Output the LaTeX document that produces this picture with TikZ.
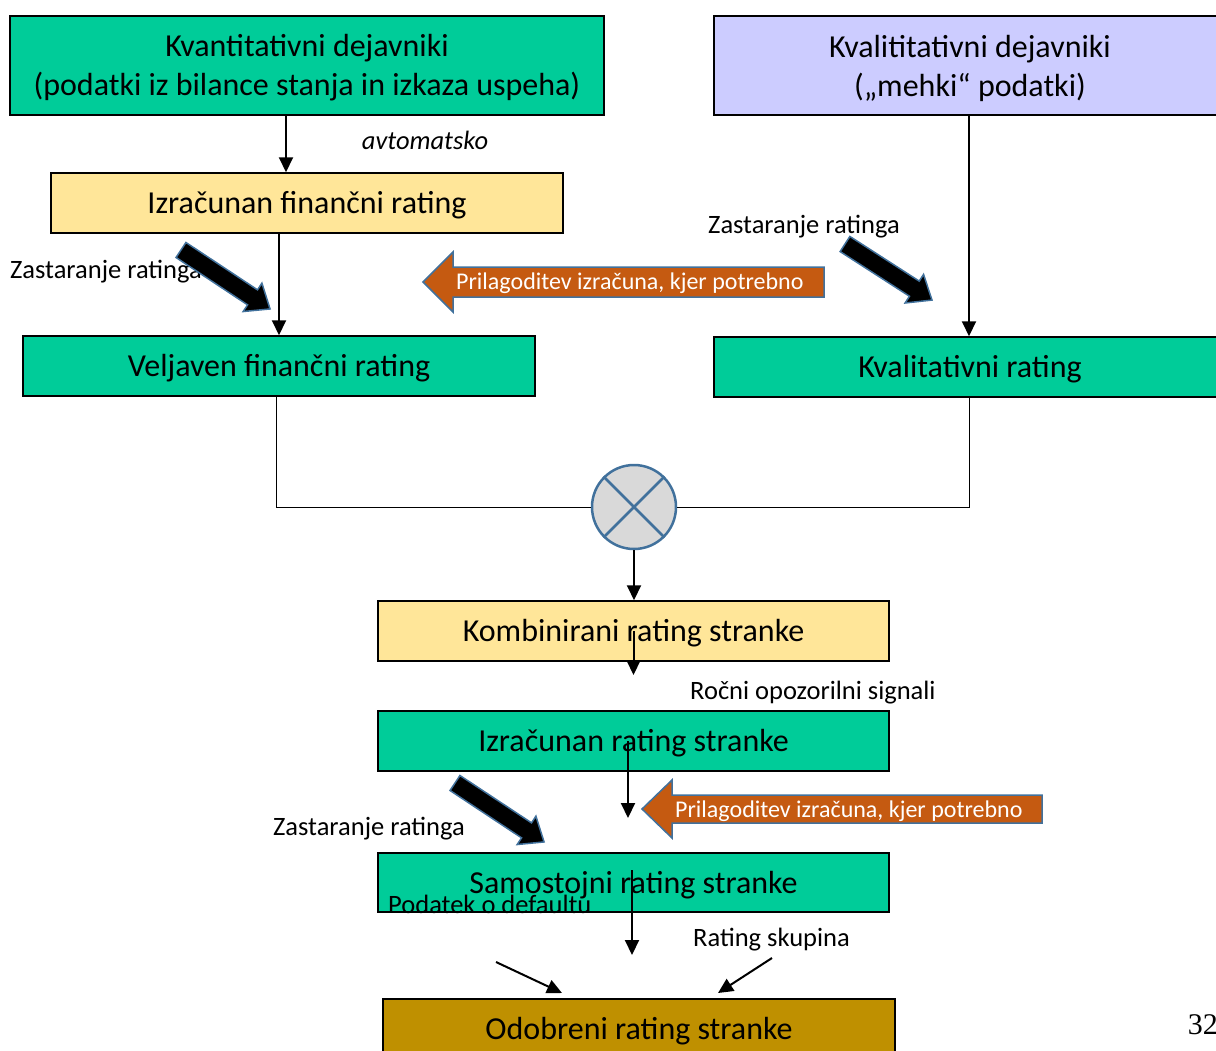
\documentclass[tikz,border=0pt]{standalone}
\usepackage{fontspec}
\setmainfont{Carlito}
\newfontfamily\pagenumfont{Liberation Serif}
\usetikzlibrary{arrows.meta,calc}
\definecolor{boxgreen}{RGB}{0,204,153}
\definecolor{boxlav}{RGB}{204,204,255}
\definecolor{boxyel}{RGB}{255,230,153}
\definecolor{boxgold}{RGB}{191,144,0}
\definecolor{arrorange}{RGB}{197,90,17}
\definecolor{edgeblue}{RGB}{65,113,156}
\definecolor{circfill}{RGB}{217,217,217}
\newcommand\fatarrow[4]{%
  \filldraw[fill=black, draw=edgeblue, line width=1.5pt, line join=miter, shift={(#1,#2)}, rotate=#3]
    (0,-9) -- (#4-21,-9) -- (#4-21,-17) -- (#4,0) -- (#4-21,17) -- (#4-21,9) -- (0,9) -- cycle;}
\newcommand\lowtext[1]{\raisebox{-2.5pt}[\height][\depth]{#1}}
\begin{document}
\begin{tikzpicture}[x=1pt,y=-1pt,
  box/.style={draw=black, line width=1.5pt, minimum width=512pt, minimum height=60pt, inner sep=0pt, align=center, font=\fontsize{32}{39}\selectfont},
  lbl/.style={font=\fontsize{26.5}{31}\selectfont, inner sep=0pt, yshift=-2.5pt},
  otext/.style={font=\fontsize{24}{29}\selectfont, inner sep=0pt, text=white, anchor=west, yshift=-1pt},
  arr/.style={line width=2pt, -{Triangle[length=15pt,width=14pt]}},
  joinline/.style={line width=1pt},
  orangearrow/.style={fill=arrorange, draw=edgeblue, line width=1.5pt, line join=miter}
]
\useasboundingbox (0,0) rectangle (1216,1050);

% boxes
\node[box, fill=boxgreen, minimum width=594pt, minimum height=99pt] (A) at (307,65.5)
  {\lowtext{Kvantitativni dejavniki}\\\lowtext{(podatki iz bilance stanja in izkaza uspeha)}};
\node[box, fill=boxlav, minimum height=99pt] (B) at (970,65.5)
  {\lowtext{Kvalititativni dejavniki}\\\lowtext{(„mehki“ podatki)}};
\node[box, fill=boxyel] (C) at (307,203) {\lowtext{Izračunan finančni rating}};
\node[box, fill=boxgreen] (D) at (279,366) {\lowtext{Veljaven finančni rating}};
\node[box, fill=boxgreen] (E) at (970,367) {\lowtext{Kvalitativni rating}};
\node[box, fill=boxyel, minimum width=511pt] (F) at (633.5,631) {\lowtext{Kombinirani rating stranke}};
\node[box, fill=boxgreen, minimum width=511pt] (G) at (633.5,741) {\lowtext{Izračunan rating stranke}};
\node[box, fill=boxgreen, minimum width=511pt, minimum height=59pt] (H) at (633.5,882.5) {\lowtext{Samostojni rating stranke}};
\node[box, fill=boxgold] (I) at (639,1029) {\lowtext{Odobreni rating stranke}};

% combiner
\node[circle, draw=edgeblue, fill=circfill, line width=2.5pt, minimum size=84pt, inner sep=0pt] (X) at (634,507) {};
\draw[edgeblue, line width=2.5pt] (X.north west) -- (X.south east) (X.north east) -- (X.south west);

% labels
\node[lbl, font=\fontsize{26.5}{31}\selectfont\itshape] (lauto) at (425,138) {avtomatsko};
\node[lbl, anchor=west] (lz1) at (10,269) {Zastaranje ratinga};
\node[lbl, anchor=west] (lz2) at (708,224) {Zastaranje ratinga};
\node[lbl, anchor=west] (lz3) at (273,826) {Zastaranje ratinga};
\node[lbl, anchor=west] (lroc) at (690,690) {Ročni opozorilni signali};
\node[lbl, anchor=west] (ldef) at (388,902) {Podatek o defaultu};
\node[lbl, anchor=west] (lskup) at (693,937) {Rating skupina};
\node[inner sep=0pt, anchor=east, font=\pagenumfont\fontsize{30}{36}\selectfont] (pnum) at (1218,1025) {32};

% fat black arrows
\fatarrow{181}{250}{-33.5}{106.8}
\fatarrow{845}{244}{-32.8}{103.5}
\fatarrow{455}{783}{-33.5}{106.8}

% orange arrows
\draw[orangearrow] (423,282) -- (453,252) -- (453,267) -- (824,267) -- (824,297) -- (453,297) -- (453,312) -- cycle;
\node[otext] (o1) at (456,282) {Prilagoditev izračuna, kjer potrebno};
\draw[orangearrow] (642,809) -- (672,780) -- (672,795) -- (1042,795) -- (1042,823) -- (672,823) -- (672,838) -- cycle;
\node[otext] (o2) at (675,810) {Prilagoditev izračuna, kjer potrebno};

% connectors
\draw[arr] ([xshift=-21pt]A.south) -- ([xshift=-21pt]C.north);
\draw[arr] ([xshift=-28pt]C.south) -- (D.north);
\draw[arr] ([xshift=-1pt]B.south) -- ([xshift=-1pt]E.north);
\draw[joinline] ([xshift=-3pt]D.south) |- (X.west);
\draw[joinline] ([xshift=-1pt]E.south) |- (X.east);
\draw[arr] (X.south) -- (X.south |- F.north);
\draw[arr] (F.center) -- ++(0,44);
\draw[arr] ([xshift=-5.5pt]G.center) -- ++(0,77);
\draw[arr] ([xshift=-1.5pt,yshift=12.5pt]H.center) -- ++(0,85);
\coordinate (d1) at (496,962);
\coordinate (d2) at (562,993);
\coordinate (s1) at (772,958);
\coordinate (s2) at (718,993);
\draw[arr] (d1) -- (d2);
\draw[arr] (s1) -- (s2);
\end{tikzpicture}
\end{document}
